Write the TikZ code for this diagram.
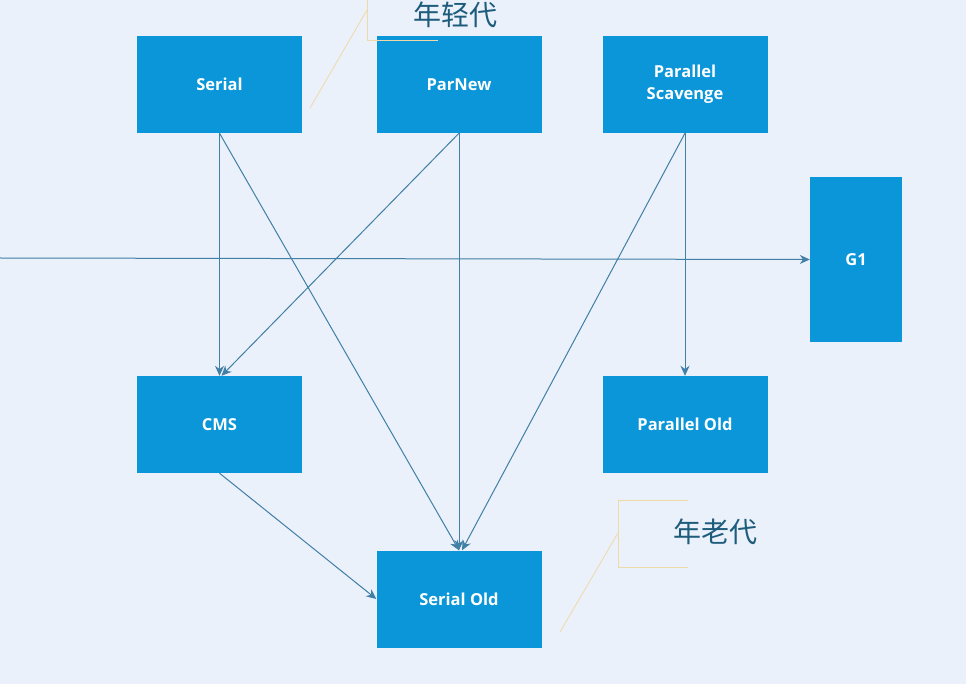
\documentclass[tikz,border=0pt]{standalone}
\usepackage{fontspec}
\setsansfont{Open Sans}
\newfontfamily\cjk{Noto Sans CJK SC}
\usepackage{tikz}
\usetikzlibrary{arrows.meta,positioning}
\definecolor{gcblue}{HTML}{0A96D8}
\definecolor{gcline}{HTML}{417FA6}
\definecolor{gcback}{HTML}{EAF1FA}
\definecolor{gcnote}{HTML}{EFD9A9}
\definecolor{gctext}{HTML}{1E5C7C}

\begin{document}
\begin{tikzpicture}[
x=1pt,y=-1pt,
font=\sffamily,
gc/.style={rectangle,fill=gcblue,text=white,minimum width=165pt,minimum height=97pt,align=center,font=\sffamily\bfseries\fontsize{16.5}{22}\selectfont},
link/.style={-{Stealth[length=10pt,width=9pt]},draw=gcline,line width=1pt},
note/.style={draw=gcnote,line width=0.8pt},
notetext/.style={text=gctext,font=\cjk\fontsize{28}{32}\selectfont}]
    % Background
    \fill[gcback] (0,0) rectangle (966,684);
    \useasboundingbox (0,0) rectangle (966,684);
    \clip (0,0) rectangle (966,684);

    % Collectors
    \node[gc] (serial) at (219.5,84.5) {Serial};
    \node[gc] (parnew) at (459,84.5) {ParNew};
    \node[gc] (scavenge) at (685,84.5) {Parallel\\Scavenge};
    \node[gc,minimum width=92pt,minimum height=165pt] (gone) at (856,259.5) {G1};
    \node[gc] (cms) at (219.5,424.5) {CMS};
    \node[gc] (parold) at (685,424.5) {Parallel Old};
    \node[gc] (serialold) at (459,599) {Serial Old};

    % Pairings
    \coordinate (leftend) at (0,258);
    \draw[link] (leftend) -- (gone.west);
    \draw[link] (serial.south) -- (cms.north);
    \draw[link] (serial.south) -- (serialold.north);
    \draw[link] (parnew.south) -- ([xshift=2pt]cms.north);
    \draw[link] (parnew.south) -- (serialold.north);
    \draw[link] (scavenge.south) -- ([xshift=3pt]serialold.north);
    \draw[link] (scavenge.south) -- (parold.north);
    \draw[link] (cms.south) -- (serialold.west);

    % Young generation note
    \node[notetext] (young) at (455,15) {年轻代};
    \coordinate (youngtip) at (310,108);
    \draw[note] (youngtip) -- (367,10);
    \draw[note] (367,0) -- (367,40) -- (438,40);

    % Old generation note
    \node[notetext] (old) at (715,532) {年老代};
    \coordinate (oldtip) at (560,632);
    \draw[note] (oldtip) -- (618,533);
    \draw[note] (688,500) -- (618,500) -- (618,567) -- (688,567);
\end{tikzpicture}
\end{document}
